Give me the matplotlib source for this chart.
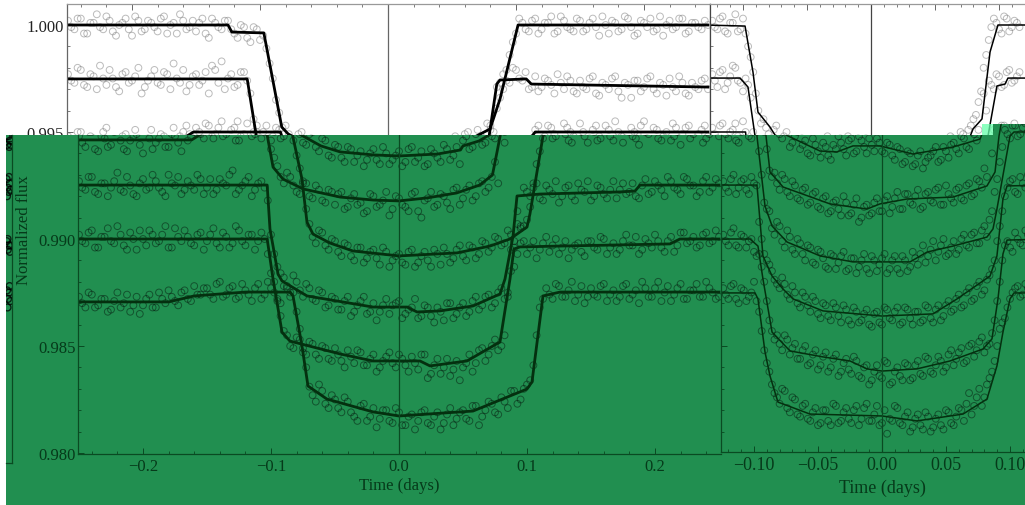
import matplotlib
matplotlib.use('Agg')
import matplotlib.pyplot as plt
from matplotlib.patches import Rectangle
from matplotlib.ticker import MultipleLocator

plt.rcParams['font.family'] = ['Liberation Serif', 'DejaVu Serif']
plt.rcParams['axes.unicode_minus'] = True

# panel 1: measured points
time_a = [-0.25, -0.245, -0.24, -0.235, -0.23, -0.225, -0.22, -0.215, -0.21, -0.205, -0.2, -0.195, -0.19, -0.185, -0.18, -0.175, -0.17, -0.165, -0.16, -0.155,
          -0.15, -0.145, -0.14, -0.135, -0.13, -0.125, -0.12, -0.115, -0.11, -0.105, -0.1, -0.095, -0.09, -0.085, -0.08, -0.075, -0.07, -0.065, -0.06, -0.055,
          -0.05, -0.045, -0.04, -0.035, -0.03, -0.025, -0.02, -0.015, -0.01, -0.005, 0.0, 0.005, 0.01, 0.015, 0.02, 0.025, 0.03, 0.035, 0.04, 0.045,
          0.05, 0.055, 0.06, 0.065, 0.07, 0.075, 0.08, 0.085, 0.09, 0.095, 0.1, 0.105, 0.11, 0.115, 0.12, 0.125, 0.13, 0.135, 0.14, 0.145,
          0.15, 0.155, 0.16, 0.165, 0.17, 0.175, 0.18, 0.185, 0.19, 0.195, 0.2, 0.205, 0.21, 0.215, 0.22, 0.225, 0.23, 0.235, 0.24, 0.245, 0.25]
flux_a1 = [1.0002, .9998, 1.0003, .9996, 1.0001, .9999, 1.0004, .9997, 1.0000, 1.0003, .9995, 1.0002, .9998, 1.0001, .9997, 1.0004, 1.0000, .9996, 1.0002, .9999,
           .9997, 1.0003, .9994, 1.0001, .9998, 1.0002, .9996, 1.0000, .9994, .9999, .9993, .9989, .9975, .9959, .9953, .9945, .9949, .9943, .9947, .9939,
           .9944, .9938, .9943, .9936, .9941, .9937, .9942, .9935, .9940, .9937, .9941, .9936, .9943, .9938, .9934, .9942, .9938, .9944, .9937, .9943,
           .9946, .9942, .9949, .9944, .9951, .9947, .9953, .9961, .9970, .9986, .9996, 1.0001, .9997, 1.0003, .9998, 1.0001, .9996, 1.0004, .9999, .9997,
           1.0002, .9998, 1.0003, .9995, 1.0000, 1.0002, .9997, 1.0004, .9999, .9996, 1.0001, 1.0003, .9998, .9995, 1.0002, .9999, 1.0003, .9997, 1.0001, .9998, 1.0000]
flux_a2 = [.9977, .9973, .9979, .9971, .9976, .9981, .9972, .9975, .9969, .9978, .9974, .9980, .9971, .9976, .9973, .9978, .9970, .9975, .9979, .9972,
           .9977, .9974, .9968, .9979, .9983, .9975, .9971, .9978, .9974, .9956, .9942, .9934, .9926, .9929, .9922, .9927, .9920, .9925, .9918, .9923,
           .9916, .9922, .9915, .9921, .9917, .9913, .9920, .9916, .9922, .9914, .9919, .9915, .9921, .9913, .9918, .9922, .9916, .9920, .9914, .9924,
           .9919, .9925, .9920, .9927, .9924, .9936, .9951, .9971, .9977, .9973, .9979, .9974, .9970, .9976, .9971, .9974, .9968, .9973, .9976, .9969,
           .9974, .9970, .9976, .9967, .9972, .9975, .9969, .9973, .9966, .9974, .9971, .9976, .9968, .9972, .9975, .9969, .9973, .9967, .9971, .9974, .9970]
flux_a3 = [.9948, .9943, .9950, .9941, .9947, .9944, .9952, .9942, .9946, .9949, .9940, .9947, .9945, .9951, .9943, .9948, .9941, .9946, .9950, .9949,
           .9952, .9947, .9953, .9949, .9955, .9946, .9952, .9948, .9954, .9950, .9946, .9953, .9948, .9951, .9939, .9926, .9907, .9898, .9903, .9895,
           .9899, .9892, .9897, .9890, .9896, .9891, .9895, .9888, .9894, .9890, .9893, .9888, .9895, .9889, .9894, .9887, .9893, .9896, .9889, .9895,
           .9892, .9897, .9891, .9899, .9894, .9901, .9897, .9904, .9899, .9905, .9909, .9926, .9941, .9951, .9947, .9953, .9949, .9945, .9952, .9948,
           .9954, .9946, .9951, .9948, .9953, .9945, .9950, .9947, .9952, .9949, .9955, .9946, .9951, .9948, .9944, .9952, .9949, .9953, .9947, .9951, .9948]
flux_a4 = [.9927, .9923, .9929, .9921, .9926, .9924, .9931, .9922, .9925, .9920, .9928, .9924, .9927, .9922, .9930, .9925, .9921, .9927, .9923, .9928,
           .9924, .9921, .9928, .9925, .9932, .9923, .9927, .9920, .9926, .9924, .9902, .9887, .9882, .9875, .9880, .9873, .9877, .9871, .9875, .9869,
           .9872, .9867, .9873, .9866, .9871, .9865, .9870, .9866, .9872, .9869, .9871, .9865, .9868, .9863, .9869, .9864, .9868, .9862, .9870, .9865,
           .9870, .9866, .9873, .9869, .9874, .9870, .9877, .9873, .9887, .9906, .9922, .9924, .9919, .9925, .9921, .9917, .9924, .9920, .9926, .9922,
           .9918, .9925, .9921, .9923, .9919, .9926, .9922, .9920, .9925, .9921, .9927, .9923, .9929, .9924, .9921, .9928, .9925, .9922, .9929, .9924, .9926]
flux_a5 = [.9902, .9898, .9904, .9896, .9901, .9899, .9906, .9897, .9903, .9895, .9900, .9904, .9898, .9902, .9896, .9905, .9899, .9901, .9897, .9903,
           .9899, .9905, .9896, .9901, .9898, .9904, .9897, .9902, .9899, .9900, .9884, .9871, .9857, .9850, .9854, .9847, .9852, .9846, .9850, .9844,
           .9849, .9843, .9848, .9842, .9847, .9841, .9846, .9840, .9845, .9842, .9846, .9841, .9845, .9839, .9846, .9837, .9844, .9840, .9836, .9843,
           .9840, .9846, .9842, .9849, .9846, .9853, .9850, .9875, .9896, .9898, .9893, .9899, .9895, .9901, .9897, .9893, .9899, .9895, .9898, .9892,
           .9899, .9895, .9900, .9896, .9893, .9899, .9897, .9901, .9895, .9898, .9902, .9896, .9899, .9894, .9903, .9898, .9901, .9897, .9903, .9899, .9901]
flux_a6 = [.9873, .9868, .9874, .9869, .9872, .9867, .9875, .9870, .9866, .9873, .9869, .9874, .9868, .9872, .9876, .9871, .9875, .9872, .9878, .9874,
           .9877, .9872, .9880, .9874, .9878, .9873, .9876, .9871, .9879, .9874, .9877, .9872, .9878, .9873, .9866, .9849, .9831, .9824, .9829, .9821,
           .9825, .9819, .9824, .9817, .9822, .9815, .9821, .9816, .9820, .9814, .9819, .9813, .9818, .9815, .9820, .9813, .9819, .9814, .9821, .9816,
           .9820, .9815, .9822, .9817, .9824, .9819, .9826, .9821, .9829, .9825, .9832, .9841, .9868, .9877, .9872, .9878, .9873, .9880, .9874, .9870,
           .9877, .9873, .9879, .9874, .9871, .9878, .9872, .9876, .9880, .9873, .9877, .9871, .9878, .9874, .9879, .9872, .9876, .9873, .9880, .9875, .9873]

# panel 1: points between those
time_a_mid = [-0.2475, -0.2425, -0.2375, -0.2325, -0.2275, -0.2225, -0.2175, -0.2125, -0.2075, -0.2025, -0.1975, -0.1925, -0.1875, -0.1825, -0.1775, -0.1725, -0.1675, -0.1625, -0.1575, -0.1525,
              -0.1475, -0.1425, -0.1375, -0.1325, -0.1275, -0.1225, -0.1175, -0.1125, -0.1075, -0.1025, -0.0975, -0.0925, -0.0875, -0.0825, -0.0775, -0.0725, -0.0675, -0.0625, -0.0575, -0.0525,
              -0.0475, -0.0425, -0.0375, -0.0325, -0.0275, -0.0225, -0.0175, -0.0125, -0.0075, -0.0025, 0.0025, 0.0075, 0.0125, 0.0175, 0.0225, 0.0275, 0.0325, 0.0375, 0.0425, 0.0475,
              0.0525, 0.0575, 0.0625, 0.0675, 0.0725, 0.0775, 0.0825, 0.0875, 0.0925, 0.0975, 0.1025, 0.1075, 0.1125, 0.1175, 0.1225, 0.1275, 0.1325, 0.1375, 0.1425, 0.1475,
              0.1525, 0.1575, 0.1625, 0.1675, 0.1725, 0.1775, 0.1825, 0.1875, 0.1925, 0.1975, 0.2025, 0.2075, 0.2125, 0.2175, 0.2225, 0.2275, 0.2325, 0.2375, 0.2425, 0.2475]
mid_a1 = [.9999, 1.0003, .9996, 1.0001, 1.0005, .9998, 1.0002, .9995, 1.0001, .9998, 1.0004, .9997, 1.0002, .9999, 1.0003, .9996, 1.0001, 1.0005, .9998, 1.0002,
          1.0001, .9996, 1.0003, .9999, 1.0002, .9998, .9994, .9999, .9992, .9998, .9995, .9982, .9965, .9952, .9949, .9944, .9950, .9941, .9946, .9938,
          .9943, .9936, .9942, .9939, .9934, .9940, .9937, .9943, .9935, .9939, .9934, .9942, .9936, .9941, .9935, .9940, .9936, .9942, .9939, .9935,
          .9948, .9943, .9950, .9945, .9948, .9954, .9950, .9966, .9979, .9992, 1.0003, .9998, 1.0002, .9996, 1.0001, 1.0004, .9997, 1.0002, .9998, 1.0003,
          .9997, 1.0001, .9999, 1.0004, .9996, 1.0001, .9998, 1.0003, .9995, 1.0002, .9999, .9997, 1.0004, 1.0000, .9998, 1.0003, .9996, 1.0001, .9999, 1.0002]
mid_a2 = [.9974, .9980, .9972, .9977, .9970, .9975, .9979, .9971, .9977, .9973, .9976, .9968, .9974, .9979, .9972, .9977, .9982, .9973, .9969, .9976,
          .9972, .9978, .9981, .9973, .9970, .9977, .9972, .9978, .9968, .9950, .9938, .9929, .9931, .9925, .9921, .9926, .9919, .9923, .9917, .9922,
          .9921, .9914, .9919, .9916, .9912, .9921, .9915, .9918, .9911, .9920, .9916, .9913, .9922, .9910, .9919, .9915, .9921, .9917, .9923, .9916,
          .9923, .9918, .9926, .9922, .9929, .9926, .9945, .9973, .9974, .9980, .9975, .9978, .9971, .9969, .9975, .9972, .9977, .9970, .9974, .9968,
          .9971, .9975, .9968, .9973, .9970, .9976, .9966, .9972, .9974, .9969, .9975, .9970, .9973, .9967, .9971, .9976, .9968, .9973, .9970, .9975]
mid_a3 = [.9945, .9950, .9942, .9948, .9943, .9950, .9946, .9941, .9948, .9944, .9951, .9942, .9947, .9943, .9949, .9945, .9952, .9948, .9953, .9947,
          .9950, .9954, .9948, .9952, .9946, .9951, .9955, .9949, .9947, .9953, .9950, .9947, .9952, .9946, .9933, .9914, .9901, .9904, .9897, .9900,
          .9894, .9898, .9892, .9896, .9889, .9894, .9891, .9896, .9887, .9892, .9889, .9894, .9887, .9892, .9890, .9895, .9888, .9893, .9891, .9897,
          .9890, .9896, .9893, .9898, .9896, .9900, .9898, .9902, .9907, .9906, .9915, .9935, .9947, .9953, .9948, .9952, .9946, .9954, .9950, .9945,
          .9950, .9947, .9953, .9946, .9951, .9955, .9948, .9944, .9950, .9953, .9947, .9952, .9946, .9950, .9954, .9947, .9952, .9945, .9949, .9953]
mid_a4 = [.9924, .9929, .9922, .9926, .9920, .9927, .9923, .9929, .9921, .9926, .9923, .9930, .9924, .9920, .9926, .9929, .9923, .9925, .9930, .9921,
          .9928, .9923, .9926, .9930, .9921, .9925, .9929, .9923, .9927, .9918, .9893, .9884, .9878, .9883, .9876, .9879, .9872, .9876, .9868, .9873,
          .9867, .9871, .9864, .9869, .9873, .9866, .9862, .9869, .9865, .9870, .9863, .9867, .9872, .9864, .9868, .9861, .9866, .9870, .9863, .9868,
          .9864, .9871, .9867, .9873, .9868, .9875, .9872, .9895, .9913, .9924, .9920, .9926, .9918, .9923, .9927, .9920, .9925, .9918, .9923, .9927,
          .9920, .9924, .9919, .9927, .9923, .9921, .9926, .9919, .9928, .9922, .9925, .9920, .9927, .9923, .9929, .9925, .9920, .9927, .9922, .9928]
mid_a5 = [.9899, .9903, .9896, .9901, .9905, .9898, .9902, .9895, .9900, .9904, .9897, .9902, .9899, .9906, .9896, .9901, .9904, .9898, .9902, .9895,
          .9902, .9898, .9903, .9896, .9906, .9899, .9902, .9895, .9903, .9893, .9880, .9864, .9855, .9849, .9853, .9846, .9851, .9844, .9849, .9843,
          .9846, .9840, .9845, .9848, .9841, .9844, .9838, .9843, .9847, .9840, .9844, .9838, .9842, .9846, .9835, .9841, .9837, .9844, .9839, .9834,
          .9842, .9838, .9848, .9843, .9850, .9848, .9855, .9885, .9893, .9899, .9896, .9891, .9898, .9894, .9900, .9896, .9891, .9897, .9894, .9899,
          .9896, .9901, .9893, .9898, .9895, .9902, .9897, .9893, .9900, .9896, .9899, .9894, .9901, .9897, .9903, .9899, .9896, .9902, .9898, .9904]
mid_a6 = [.9870, .9875, .9868, .9872, .9866, .9871, .9868, .9874, .9869, .9865, .9872, .9868, .9875, .9870, .9873, .9869, .9876, .9871, .9874, .9877,
          .9874, .9879, .9873, .9877, .9872, .9879, .9874, .9877, .9872, .9880, .9875, .9870, .9877, .9875, .9858, .9840, .9827, .9832, .9823, .9827,
          .9821, .9826, .9819, .9815, .9823, .9817, .9812, .9820, .9815, .9821, .9813, .9817, .9811, .9819, .9814, .9817, .9811, .9818, .9813, .9819,
          .9816, .9822, .9813, .9820, .9823, .9818, .9824, .9829, .9823, .9830, .9834, .9855, .9872, .9874, .9879, .9873, .9876, .9871, .9878, .9873,
          .9874, .9878, .9871, .9876, .9873, .9879, .9874, .9870, .9877, .9873, .9880, .9875, .9871, .9877, .9872, .9876, .9879, .9873, .9877, .9872]

# panel 2: measured points
time_b = [-0.124, -0.12, -0.116, -0.112, -0.108, -0.104, -0.1, -0.096, -0.092, -0.088, -0.084, -0.08, -0.076, -0.072, -0.068,
          -0.064, -0.06, -0.056, -0.052, -0.048, -0.044, -0.04, -0.036, -0.032, -0.028, -0.024, -0.02, -0.016, -0.012, -0.008,
          -0.004, 0.0, 0.004, 0.008, 0.012, 0.016, 0.02, 0.024, 0.028, 0.032, 0.036, 0.04, 0.044, 0.048, 0.052,
          0.056, 0.06, 0.064, 0.068, 0.072, 0.076, 0.08, 0.084, 0.088, 0.092, 0.096, 0.1, 0.104, 0.108, 0.112, 0.116]
flux_b1 = [1.0002, .9998, 1.0004, .9996, 1.0001, .9997, 1.0003, .9990, .9978, .9960, .9956, .9949, .9951, .9943, .9948,
           .9942, .9946, .9939, .9944, .9938, .9943, .9937, .9942, .9945, .9939, .9947, .9941, .9946, .9940, .9944,
           .9947, .9941, .9945, .9939, .9943, .9935, .9941, .9934, .9939, .9933, .9938, .9941, .9936, .9943, .9938,
           .9945, .9940, .9947, .9942, .9949, .9951, .9956, .9964, .9980, .9993, 1.0003, .9998, 1.0004, .9997, 1.0002, .9999]
flux_b2 = [.9977, .9971, .9979, .9973, .9981, .9974, .9969, .9972, .9950, .9932, .9931, .9923, .9928, .9920, .9925,
           .9918, .9924, .9917, .9922, .9914, .9920, .9913, .9918, .9911, .9917, .9912, .9919, .9910, .9916, .9912,
           .9919, .9913, .9920, .9915, .9922, .9914, .9921, .9916, .9923, .9915, .9922, .9917, .9924, .9916, .9921,
           .9917, .9924, .9918, .9926, .9921, .9927, .9933, .9951, .9968, .9974, .9970, .9976, .9972, .9979, .9974, .9978]
flux_b3 = [.9952, .9947, .9954, .9945, .9951, .9948, .9955, .9941, .9917, .9913, .9902, .9906, .9896, .9901, .9893,
           .9898, .9890, .9896, .9888, .9894, .9887, .9893, .9886, .9892, .9885, .9891, .9884, .9890, .9886, .9892,
           .9885, .9891, .9884, .9890, .9886, .9892, .9885, .9894, .9888, .9897, .9892, .9899, .9894, .9900, .9893,
           .9899, .9895, .9902, .9896, .9903, .9898, .9906, .9909, .9922, .9936, .9951, .9947, .9953, .9949, .9954, .9948]
flux_b4 = [.9927, .9922, .9930, .9924, .9928, .9921, .9926, .9908, .9893, .9888, .9881, .9877, .9879, .9872, .9875,
           .9868, .9873, .9866, .9871, .9863, .9869, .9862, .9868, .9861, .9867, .9860, .9866, .9862, .9867, .9859,
           .9866, .9860, .9867, .9862, .9868, .9861, .9867, .9860, .9866, .9862, .9868, .9861, .9869, .9864, .9871,
           .9867, .9874, .9869, .9877, .9872, .9880, .9876, .9883, .9890, .9906, .9920, .9927, .9922, .9929, .9924, .9923]
flux_b5 = [.9902, .9897, .9905, .9896, .9901, .9899, .9894, .9893, .9880, .9862, .9853, .9851, .9855, .9846, .9851,
           .9844, .9850, .9842, .9848, .9841, .9847, .9840, .9846, .9838, .9844, .9837, .9843, .9835, .9841, .9834,
           .9841, .9835, .9842, .9833, .9840, .9834, .9841, .9835, .9843, .9836, .9844, .9837, .9845, .9838, .9846,
           .9841, .9847, .9842, .9850, .9845, .9852, .9847, .9851, .9862, .9880, .9897, .9896, .9903, .9898, .9904, .9899]
flux_b6 = [.9877, .9872, .9879, .9870, .9876, .9873, .9880, .9866, .9848, .9838, .9828, .9823, .9829, .9819, .9825,
           .9817, .9823, .9815, .9821, .9814, .9820, .9813, .9822, .9815, .9821, .9814, .9822, .9816, .9823, .9815,
           .9822, .9814, .9809, .9815, .9821, .9813, .9819, .9812, .9818, .9811, .9817, .9812, .9818, .9811, .9819,
           .9813, .9821, .9815, .9828, .9822, .9830, .9826, .9835, .9843, .9858, .9863, .9872, .9877, .9873, .9879, .9874]

# panel 2: points between those
time_b_mid = [-0.122, -0.118, -0.114, -0.11, -0.106, -0.102, -0.098, -0.094, -0.09, -0.086, -0.082, -0.078, -0.074, -0.07, -0.066,
              -0.062, -0.058, -0.054, -0.05, -0.046, -0.042, -0.038, -0.034, -0.03, -0.026, -0.022, -0.018, -0.014, -0.01, -0.006,
              -0.002, 0.002, 0.006, 0.01, 0.014, 0.018, 0.022, 0.026, 0.03, 0.034, 0.038, 0.042, 0.046, 0.05, 0.054,
              0.058, 0.062, 0.066, 0.07, 0.074, 0.078, 0.082, 0.086, 0.09, 0.094, 0.098, 0.102, 0.106, 0.11, 0.114]
mid_b1 = [.9999, 1.0003, .9997, 1.0001, 1.0005, .9998, .9996, .9985, .9968, .9954, .9952, .9947, .9953, .9945, .9950,
          .9944, .9940, .9947, .9941, .9945, .9939, .9944, .9948, .9942, .9946, .9940, .9948, .9943, .9947, .9941,
          .9945, .9940, .9944, .9937, .9942, .9936, .9940, .9935, .9941, .9936, .9939, .9943, .9937, .9941, .9944,
          .9942, .9948, .9943, .9950, .9946, .9953, .9958, .9969, .9986, .9999, 1.0001, .9996, 1.0003, .9999, 1.0001]
mid_b2 = [.9974, .9978, .9970, .9976, .9980, .9973, .9975, .9966, .9942, .9929, .9926, .9930, .9922, .9927, .9919,
          .9923, .9916, .9921, .9915, .9919, .9912, .9917, .9914, .9920, .9911, .9916, .9908, .9915, .9911, .9917,
          .9913, .9918, .9912, .9919, .9914, .9921, .9917, .9920, .9914, .9921, .9918, .9923, .9916, .9925, .9919,
          .9923, .9919, .9925, .9920, .9928, .9924, .9929, .9940, .9960, .9972, .9977, .9971, .9978, .9973, .9976]
mid_b3 = [.9949, .9953, .9946, .9950, .9954, .9947, .9950, .9930, .9914, .9905, .9908, .9899, .9904, .9895, .9900,
          .9893, .9897, .9889, .9895, .9891, .9886, .9892, .9889, .9894, .9886, .9891, .9887, .9893, .9884, .9890,
          .9888, .9893, .9886, .9892, .9884, .9890, .9887, .9891, .9893, .9889, .9895, .9890, .9897, .9892, .9896,
          .9893, .9900, .9897, .9902, .9898, .9904, .9901, .9913, .9928, .9943, .9949, .9953, .9948, .9952, .9950]
mid_b4 = [.9924, .9928, .9921, .9927, .9923, .9929, .9925, .9900, .9890, .9885, .9879, .9882, .9874, .9878, .9870,
          .9875, .9869, .9873, .9865, .9870, .9864, .9870, .9864, .9869, .9862, .9868, .9861, .9865, .9860, .9865,
          .9861, .9868, .9863, .9866, .9860, .9868, .9863, .9866, .9861, .9869, .9863, .9867, .9862, .9869, .9866,
          .9872, .9868, .9875, .9871, .9878, .9874, .9881, .9886, .9899, .9913, .9924, .9928, .9921, .9926, .9930]
mid_b5 = [.9899, .9903, .9897, .9902, .9896, .9900, .9892, .9887, .9871, .9857, .9855, .9848, .9853, .9849, .9844,
          .9848, .9841, .9846, .9839, .9845, .9838, .9844, .9836, .9842, .9839, .9845, .9836, .9840, .9832, .9838,
          .9836, .9843, .9832, .9838, .9836, .9842, .9834, .9841, .9837, .9845, .9838, .9841, .9843, .9840, .9848,
          .9844, .9849, .9843, .9851, .9848, .9854, .9850, .9856, .9871, .9890, .9899, .9894, .9900, .9897, .9902]
mid_b6 = [.9874, .9878, .9872, .9877, .9871, .9875, .9871, .9857, .9842, .9832, .9826, .9830, .9821, .9826, .9818,
          .9822, .9816, .9819, .9813, .9820, .9815, .9823, .9814, .9819, .9816, .9820, .9813, .9821, .9815, .9818,
          .9813, .9820, .9816, .9822, .9814, .9817, .9810, .9816, .9813, .9819, .9810, .9816, .9813, .9820, .9814,
          .9817, .9820, .9823, .9818, .9826, .9822, .9832, .9838, .9850, .9861, .9868, .9875, .9878, .9874, .9877]

# panel 1: fitted curves
fit_ta1 = [-0.25, -0.125, -0.122, -0.097, -0.083, -0.078, -0.061, -0.046, -0.02, 0.0, 0.03, 0.048, 0.05, 0.0625, 0.069, 0.0797, 0.0875, 0.1016, 0.25]
fit_fa1 = [1.0, 1.0, .99967, .99963, .99523, .99491, .99435, .99407, .99393, .99388, .99397, .99416, .99435, .99458, .99481, .99514, .99654, 1.0, 1.0]
fit_ta2 = [-0.25, -0.11, -0.103, -0.0984, -0.0906, -0.075, -0.046, -0.02, 0.0, 0.022, 0.045, 0.063, 0.073, 0.0766, 0.079, 0.085, 0.0875, 0.108, 0.112, 0.25]
fit_fa2 = [.99748, .99748, .99486, .99336, .99280, .99234, .99196, .99182, .99178, .99192, .99215, .99252, .99299, .99407, .99481, .99724, .99743, .99748, .99724, .99710]
fit_ta3 = [-0.25, -0.162, -0.152, -0.084, -0.083, -0.0758, -0.0719, -0.0672, -0.0539, -0.036, 0.0, 0.0453, 0.0711, 0.0867, 0.1, 0.1023, 0.1125, 0.115, 0.25]
fit_fa3 = [.99463, .99463, .995, .995, .99481, .99280, .99079, .99023, .98981, .98944, .98921, .98935, .98967, .99, .99056, .99117, .99481, .995, .995]
fit_ta4 = [-0.25, -0.103, -0.1008, -0.0945, -0.0914, -0.0719, -0.0203, 0.0063, 0.0141, 0.032, 0.0578, 0.0789, 0.0828, 0.0891, 0.0922, 0.11, 0.1727, 0.1844, 0.1883, 0.25]
fit_fa4 = [.99252, .99252, .99047, .98836, .98804, .98734, .98682, .98682, .98659, .98664, .98687, .98743, .98813, .99014, .99201, .9921, .9922, .99224, .99252, .99252]
fit_ta5 = [-0.25, -0.103, -0.0984, -0.0914, -0.0852, -0.0461, -0.0203, 0.0164, 0.0242, 0.0531, 0.0789, 0.0867, 0.0898, 0.0945, 0.1258, 0.2117, 0.2195, 0.25]
fit_fa5 = [.99, .99, .98813, .98565, .98523, .98463, .9843, .9843, .98407, .9843, .98519, .98813, .98953, .98963, .98967, .98977, .99, .99]
fit_ta6 = [-0.25, -0.18, -0.16, -0.12, -0.085, -0.0828, -0.0758, -0.0711, -0.0563, -0.0203, 0.0, 0.0578, 0.1, 0.1039, 0.1125, 0.1258, 0.25]
fit_fa6 = [.98706, .98706, .98734, .98752, .98752, .98734, .985, .98313, .98252, .98192, .98173, .98196, .98299, .98332, .98734, .98752, .98752]

# panel 2: fitted curves
fit_tb1 = [-0.13, -0.0984, -0.0922, -0.0883, -0.0789, -0.075, -0.0484, -0.0352, -0.0227, -0.0016, 0.0242, 0.0555, 0.0766, 0.0797, 0.0867, 0.093, 0.0992, 0.13]
fit_fb1 = [1.0, .99995, .9978, .99593, .99523, .99486, .99411, .99407, .99435, .99435, .99397, .9943, .99467, .99514, .99561, .99874, 1.0, 1.0]
fit_tb2 = [-0.13, -0.1023, -0.0961, -0.0906, -0.0875, -0.0773, -0.0406, -0.0117, -0.0016, 0.0195, 0.0555, 0.082, 0.0883, 0.0914, 0.0984, 0.1047, 0.107, 0.13]
fit_fb2 = [.99752, .99752, .9971, .99481, .99313, .99243, .99164, .9914, .99164, .99187, .99196, .99248, .99313, .99481, .99715, .99724, .99752, .99752]
fit_tb3 = [-0.13, -0.098, -0.0977, -0.0914, -0.0859, -0.0742, -0.0484, -0.0227, 0.0219, 0.0352, 0.0555, 0.082, 0.0867, 0.0898, 0.1, 0.1031, 0.13]
fit_fb3 = [.995, .995, .99481, .99154, .99061, .98986, .98921, .98893, .98893, .98939, .98967, .99009, .99047, .9914, .99481, .995, .995]
fit_tb4 = [-0.13, -0.0977, -0.093, -0.0859, -0.0773, -0.0695, -0.0461, 0.0, 0.0398, 0.0586, 0.0844, 0.0898, 0.0945, 0.0977, 0.13]
fit_fb4 = [.99252, .99252, .98921, .98827, .98766, .9872, .98664, .9864, .9865, .9872, .98827, .98921, .99187, .99248, .99252]
fit_tb5 = [-0.13, -0.1031, -0.0969, -0.093, -0.0859, -0.0719, -0.0461, -0.025, -0.0117, 0.0, 0.0273, 0.0531, 0.0789, 0.0859, 0.0906, 0.0945, 0.0977, 0.13]
fit_fb5 = [.99, .99, .98967, .98813, .98565, .98477, .98449, .9843, .98393, .98383, .98393, .9843, .98486, .98533, .9872, .9893, .98995, .99]
fit_tb6 = [-0.13, -0.0992, -0.0969, -0.0914, -0.0875, -0.0813, -0.0563, 0.0, 0.0273, 0.0633, 0.082, 0.0898, 0.0945, 0.1, 0.1031, 0.13]
fit_fb6 = [.98748, .98748, .9872, .98472, .9836, .98238, .98182, .98173, .9815, .98182, .98252, .98407, .98565, .9872, .98748, .98748]

# sliver at the far left of the green area
strip_time = [0.1005, 0.101, 0.1018, 0.1025, 0.1032, 0.1038, 0.1005, 0.1012, 0.102, 0.1028, 0.1036, 0.1008, 0.1024, 0.1005, 0.1014, 0.1022, 0.103, 0.1037, 0.1012, 0.1008, 0.1016, 0.1024, 0.1034, 0.1012, 0.1028]
strip_flux = [.9948, .9944, .9948, .9943, .9946, .9944, .9928, .9924, .9922, .9926, .9923, .9920, .9929, .9899, .9895, .9897, .9894, .9897, .9900, .9876, .9872, .9875, .9871, .9868, .9878]

y_ticks = [0.98, 0.985, 0.99, 0.995, 1.0]
x_ticks_a = [-0.2, -0.1, 0.0, 0.1, 0.2]
x_ticks_b = [-0.10, -0.05, 0.0, 0.05, 0.10]

all_time_a = time_a + time_a_mid
all_time_b = time_b + time_b_mid
series_a = [flux_a1 + mid_a1, flux_a2 + mid_a2, flux_a3 + mid_a3, flux_a4 + mid_a4, flux_a5 + mid_a5, flux_a6 + mid_a6]
series_b = [flux_b1 + mid_b1, flux_b2 + mid_b2, flux_b3 + mid_b3, flux_b4 + mid_b4, flux_b5 + mid_b5, flux_b6 + mid_b6]
fits_a = [(fit_ta1, fit_fa1), (fit_ta2, fit_fa2), (fit_ta3, fit_fa3), (fit_ta4, fit_fa4), (fit_ta5, fit_fa5), (fit_ta6, fit_fa6)]
fits_b = [(fit_tb1, fit_fb1), (fit_tb2, fit_fb2), (fit_tb3, fit_fb3), (fit_tb4, fit_fb4), (fit_tb5, fit_fb5), (fit_tb6, fit_fb6)]

W, H = 1025, 506
GREEN = '#218f50'
DARK = '#0a4a22'
TEXT_DARK = '#063a1a'
PX_DAY = 1280.0
PX_FLUX = 21400.0

fig = plt.figure(figsize=(W / 100, H / 100), dpi=100, facecolor='white')


def add_px_axes(x0, x1, y0, y1, zero_px, zorder):
    ax = fig.add_axes([x0 / W, 1 - y1 / H, (x1 - x0) / W, (y1 - y0) / H], zorder=zorder)
    ax.set_xlim((x0 - zero_px) / PX_DAY, (x1 - zero_px) / PX_DAY)
    ax.set_ylim(1 - (y1 - 26) / PX_FLUX, 1 - (y0 - 26) / PX_FLUX)
    return ax


def draw_data(ax, times, series, fits, circle, alpha, line, lw, minor_x, edge, tick_color):
    for flux in series:
        ax.scatter(times, flux, s=24, facecolors='none', edgecolors=circle, linewidths=0.7, alpha=alpha)
    for t, f in fits:
        ax.plot(t, f, color=line, lw=lw, solid_joinstyle='round')
    ax.axvline(0, color=edge, lw=0.9)
    ax.xaxis.set_minor_locator(MultipleLocator(minor_x))
    ax.yaxis.set_minor_locator(MultipleLocator(0.001))
    ax.tick_params(which='major', direction='in', length=4, width=0.7, color=tick_color)
    ax.tick_params(which='minor', direction='in', length=2, width=0.6, color=tick_color)
    for s in ax.spines.values():
        s.set_color(edge)
        s.set_linewidth(0.9)


# white layer
top1 = add_px_axes(67, 710, 5, 455, 388, 1)
top2 = add_px_axes(710, 1040, 5, 455, 871, 1)
draw_data(top1, all_time_a, series_a, fits_a, '#777777', 0.5, 'black', 2.0, 0.02, '#666666', '#666666')
draw_data(top2, all_time_b, series_b, fits_b, '#777777', 0.5, 'black', 1.1, 0.01, '#444444', '#666666')
top1.spines['top'].set_color('#999999')
top2.spines['top'].set_color('#999999')
top1.set_xticks(x_ticks_a)
top2.set_xticks(x_ticks_b)
for ax in (top1, top2):
    ax.tick_params(axis='x', which='both', bottom=False, top=True, labelbottom=False)
    ax.set_yticks([0.995, 1.0])
top1.set_yticklabels(['0.995', '1.000'], fontsize=12, color='#222222')
top1.tick_params(axis='y', pad=2.5)
top2.tick_params(axis='y', labelleft=False)
for ax in (top1, top2):
    ax.set_ylim(1 - (455 - 26) / PX_FLUX, 1 + 21 / PX_FLUX)

# green layer over it
fig.add_artist(Rectangle((6 / W, 0), (W - 6) / W, 1 - 136 / H, transform=fig.transFigure,
                         facecolor=GREEN, edgecolor='none', zorder=5))
fig.add_artist(Rectangle((993 / W, 1 - 136 / H), (W - 993) / W, 11 / H, transform=fig.transFigure,
                         facecolor=GREEN, edgecolor='none', zorder=5))
fig.add_artist(Rectangle((982 / W, 1 - 136 / H), 11 / W, 11 / H, transform=fig.transFigure,
                         facecolor='#66ffaa', edgecolor='none', alpha=0.75, zorder=5))

low1 = add_px_axes(78, 721, 136, 455, 399, 6)
low2 = add_px_axes(721, 1040, 136, 453, 882, 6)
draw_data(low1, all_time_a, series_a, fits_a, 'black', 0.42, '#04300f', 2.0, 0.02, DARK, DARK)
draw_data(low2, all_time_b, series_b, fits_b, 'black', 0.42, '#04300f', 1.1, 0.01, DARK, DARK)
low1.patch.set_visible(False)
low2.patch.set_visible(False)
low1.spines['top'].set_visible(False)
low2.spines['top'].set_visible(False)
low1.spines['right'].set_visible(False)
low1.set_xticks(x_ticks_a)
low1.set_xticklabels(['\u22120.2', '\u22120.1', '0.0', '0.1', '0.2'], fontsize=12, color=TEXT_DARK)
low2.set_xticks(x_ticks_b)
low2.set_xticklabels(['\u22120.10', '\u22120.05', '0.00', '0.05', '0.10'], fontsize=13, color=TEXT_DARK)
low1.set_yticks([0.98, 0.985, 0.99])
low1.set_yticklabels(['0.980', '0.985', '0.990'], fontsize=12, color=TEXT_DARK)
low2.set_yticks([0.98, 0.985, 0.99])
low2.tick_params(axis='y', labelleft=False)
low1.tick_params(axis='x', pad=3)
low2.tick_params(axis='x', pad=3)
low1.tick_params(axis='y', pad=1.5)
low1.set_ylim(1 - (455 - 26) / PX_FLUX, 1 - (136 - 26) / PX_FLUX)
low2.set_ylim(1 - (453 - 26) / PX_FLUX, 1 - (136 - 26) / PX_FLUX)
low1.set_xlabel('Time (days)', fontsize=12, color=TEXT_DARK, labelpad=2)
low2.set_xlabel('Time (days)', fontsize=13, color=TEXT_DARK, labelpad=2)
low2.xaxis.set_label_coords((882.5 - 721) / (1040 - 721), -0.085)
fig.text(24 / W, 1 - 230 / H, 'Normalized flux', rotation=90, fontsize=12, color=TEXT_DARK,
         ha='center', va='center', zorder=7)

# corner piece above the green edge
patch = add_px_axes(993, 1025, 125, 136, 882, 6)
patch.patch.set_visible(False)
for t, f in fits_b:
    patch.plot(t, f, color='#04300f', lw=1.1)
for flux in series_b:
    patch.scatter(all_time_b, flux, s=24, facecolors='none', edgecolors='black', linewidths=0.7, alpha=0.42)
patch.axis('off')

# wrapped sliver
strip = add_px_axes(6, 11.5, 136, 464, 0, 6)
strip.set_xlim(0.1, 0.1043)
strip.patch.set_visible(False)
strip.scatter(strip_time, strip_flux, s=24, facecolors='none', edgecolors='black', linewidths=1.0, alpha=0.75)
strip.set_xticks([])
strip.set_yticks([])
for name in ('top', 'left'):
    strip.spines[name].set_visible(False)
for name in ('right', 'bottom'):
    strip.spines[name].set_color(DARK)
    strip.spines[name].set_linewidth(0.9)

plt.savefig('out.png', dpi=100)
print('saved out.png')
